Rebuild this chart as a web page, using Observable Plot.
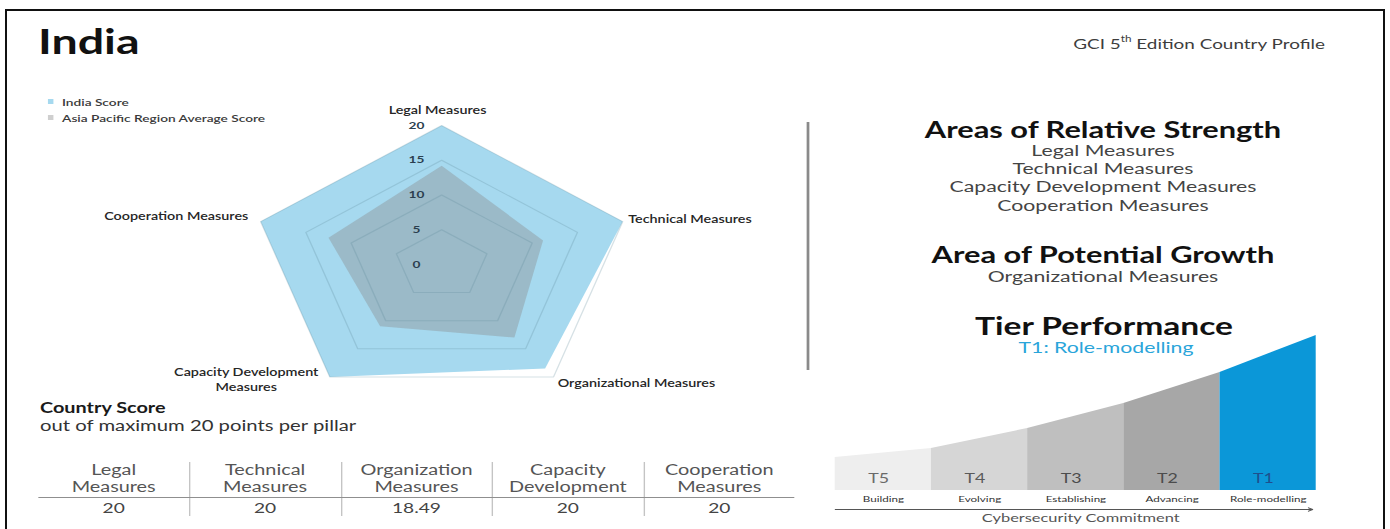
<!DOCTYPE html>
<html><head><meta charset="utf-8">
<script src="https://cdn.jsdelivr.net/npm/d3@7"></script>
<script src="https://cdn.jsdelivr.net/npm/@observablehq/plot@0.6"></script>
<style>
html,body{margin:0;padding:0;background:#fff;width:1390px;height:529px;overflow:hidden;font-family:Lato,"Open Sans",sans-serif;}
#stage{position:absolute;left:0;top:0;width:1015px;height:529px;transform:scaleX(1.3695);transform-origin:0 0;}
.t{position:absolute;white-space:nowrap;line-height:1;}
.t sup{font-size:0.62em;line-height:0;position:relative;top:-0.15em;vertical-align:super;}
#frame{position:absolute;left:5px;top:9px;width:1380px;height:560px;border:2px solid #111;box-sizing:border-box;}
.abs{position:absolute;}
</style></head><body>
<div id="frame"></div>
<div id="stage"></div>
<script>
// ---------- data ----------
const pillars = ["Legal Measures", "Technical Measures", "Organizational Measures", "Capacity Development\nMeasures", "Cooperation Measures"];
const indiaScore = [20, 20, 18.49, 20, 20];
const regionAverage = [14.2, 11.2, 13.0, 11.0, 12.5];
const radarTicks = [0, 5, 10, 15, 20];
const seriesNames = ["India Score", "Asia Pacific Region Average Score"];
const tableHeaders = ["Legal\nMeasures", "Technical\nMeasures", "Organization\nMeasures", "Capacity\nDevelopment", "Cooperation\nMeasures"];
const strengths = ["Legal Measures", "Technical Measures", "Capacity Development Measures", "Cooperation Measures"];
const growthAreas = ["Organizational Measures"];
const tiers = ["T5", "T4", "T3", "T2", "T1"];
const tierNames = ["Building", "Evolving", "Establishing", "Advancing", "Role-modelling"];
const tierCurve = [33, 42, 62, 87, 118, 155];
const indiaTier = "T1";

// ---------- styles ----------
const S = 1.3695;               // horizontal stretch of the original picture
const nx = x => x / S;
const stage = document.getElementById("stage");
const FONT = "Lato, 'Open Sans', sans-serif";
const seriesColors = ["#a6d9ef", "#cfcfcf"];
const tierColors = ["#eeeeee", "#d6d6d6", "#bfbfbf", "#a7a7a7", "#0b97d8"];
const tierTextColors = ["#6a6a6a", "#5a5a5a", "#4c4c4c", "#4c4c4c", "#1f4f8e"];

function txt(str, x, y, o = {}) {
  const d = document.createElement("div");
  d.className = "t";
  if (o.html) d.innerHTML = str; else d.textContent = str;
  d.style.left = nx(x) + "px";
  d.style.top = y + "px";
  d.style.fontSize = (o.size || 14) + "px";
  d.style.fontWeight = o.weight || 400;
  d.style.color = o.color || "#333";
  d.style.fontFamily = o.family || FONT;
  const tx = o.anchor === "middle" ? "-50%" : o.anchor === "end" ? "-100%" : "0";
  d.style.transform = `translate(${tx},-50%)`;
  stage.appendChild(d);
  return d;
}
function box(x, y, w, h, color) {
  const d = document.createElement("div");
  d.className = "abs";
  Object.assign(d.style, {left: nx(x) + "px", top: y + "px", width: w + "px", height: h + "px", background: color});
  stage.appendChild(d);
  return d;
}

// ---------- header ----------
txt("India", 38, 41, {size: 34, weight: 700, color: "#111"});
txt("GCI 5<sup>th</sup> Edition Country Profile", 1325, 44, {html: true, anchor: "end", size: 13.8, color: "#3d3d3d"});

// ---------- radar ----------
const k = 139 / 20;  // px per score unit
const RW = 600, RH = 380;
const ang = i => Math.PI / 2 - i * 2 * Math.PI / pillars.length;
const pts = (vals, extra = {}) => vals.map((v, i) => ({x: v * Math.cos(ang(i)), y: v * Math.sin(ang(i)), ...extra}));
const rings = radarTicks.filter(r => r > 0).flatMap(r => pts(pillars.map(() => r), {r}));
const maxScore = d3.max(radarTicks);
const labelPts = pts(pillars.map(() => maxScore)).map((p, i) => ({...p, label: pillars[i]}));
const labelPlace = [
  {textAnchor: "middle", dx: -3, dy: -16},
  {textAnchor: "start", dx: 4, dy: -3},
  {textAnchor: "start", dx: 3, dy: 5},
  {textAnchor: "middle", dx: -61, dy: 2},
  {textAnchor: "end", dx: -9, dy: -6}
];
const radar = Plot.plot({
  width: RW, height: RH, margin: 0,
  x: {domain: [-RW / 2 / k, RW / 2 / k], axis: null},
  y: {domain: [-RH / 2 / k, RH / 2 / k], axis: null},
  style: {background: "transparent", fontFamily: FONT, overflow: "visible"},
  marks: [
    Plot.line(pts(indiaScore), {x: "x", y: "y", curve: "linear-closed", fill: seriesColors[0], stroke: "none"}),
    Plot.line(pts(regionAverage), {x: "x", y: "y", curve: "linear-closed", fill: "#8a8a8a", fillOpacity: 0.38, stroke: "none"}),
    Plot.line(rings, {x: "x", y: "y", z: "r", curve: "linear-closed", stroke: "#5d8696", strokeOpacity: 0.25, strokeWidth: 1}),
    Plot.text(radarTicks, {x: () => 0, y: d => d, dx: -18.4, text: d => String(d), fontSize: 10, fontWeight: 700, fill: "#2b3f50"}),
    ...labelPts.map((p, i) => Plot.text([p], {x: "x", y: "y", text: "label", fontSize: 10.5, fontWeight: 600, fill: "#262626", lineHeight: 1.45, lineAnchor: "middle", ...labelPlace[i]}))
  ]
});
Object.assign(radar.style, {position: "absolute", left: (nx(441) - RW / 2) + "px", top: (264 - RH / 2) + "px", maxWidth: "none"});
stage.appendChild(radar);

// legend
seriesNames.forEach((n, i) => {
  box(48, 99 + i * 16, 3.7, 5, seriesColors[i]);
  txt(n, 62, 101.5 + i * 16, {size: 10, weight: 600, color: "#3a3a3a"});
});

// ---------- country score table ----------
txt("Country Score", 40, 408, {size: 14.5, weight: 700, color: "#1a1a1a"});
txt("out of maximum " + maxScore + " points per pillar", 40, 425, {size: 14.8, color: "#333"});
const tL = nx(38), tR = nx(795), colW = (tR - tL) / tableHeaders.length;
tableHeaders.forEach((h, i) => {
  const hd = document.createElement("div");
  hd.className = "abs";
  Object.assign(hd.style, {left: (tL + i * colW) + "px", top: "461px", width: colW + "px", textAlign: "center",
    lineHeight: "17px", fontSize: "14.5px", color: "#555", whiteSpace: "pre", fontFamily: FONT});
  hd.textContent = h;
  stage.appendChild(hd);
  const vd = document.createElement("div");
  vd.className = "abs";
  Object.assign(vd.style, {left: (tL + i * colW) + "px", top: "500px", width: colW + "px", textAlign: "center",
    lineHeight: "16px", fontSize: "14px", color: "#444", fontFamily: FONT});
  vd.textContent = String(indiaScore[i]);
  stage.appendChild(vd);
  if (i > 0) {
    const s = document.createElement("div");
    s.className = "abs";
    Object.assign(s.style, {left: (tL + i * colW) + "px", top: "462px", width: "0.75px", height: "54px", background: "#c4c4c4"});
    stage.appendChild(s);
  }
});
const rule = document.createElement("div");
rule.className = "abs";
Object.assign(rule.style, {left: tL + "px", top: "497px", width: (tR - tL) + "px", height: "1px", background: "#8f8f8f"});
stage.appendChild(rule);

// separator
const sep = document.createElement("div");
sep.className = "abs";
Object.assign(sep.style, {left: nx(807) + "px", top: "122px", width: "1.5px", height: "248px", background: "#8a8a8a"});
stage.appendChild(sep);

// ---------- right text block ----------
const cx = 1103;
txt("Areas of Relative Strength", cx, 129.5, {anchor: "middle", size: 22.5, weight: 700, color: "#111"});
strengths.forEach((s, i) => txt(s, cx, 151 + i * 18.2, {anchor: "middle", size: 15.5, color: "#444"}));
txt("Area of Potential Growth", cx, 254.5, {anchor: "middle", size: 22.5, weight: 700, color: "#111"});
growthAreas.forEach((s, i) => txt(s, cx, 276.5 + i * 18.2, {anchor: "middle", size: 15.5, color: "#444"}));
txt("Tier Performance", 1104, 325.5, {anchor: "middle", size: 24.5, weight: 700, color: "#111"});
txt(`${indiaTier}: ${tierNames[tiers.indexOf(indiaTier)]}`, 1106, 348, {anchor: "middle", size: 15.5, color: "#2aa5da"});

// ---------- tier chart ----------
const tierArea = tiers.flatMap((t, i) => [{tier: t, x: i, h: tierCurve[i]}, {tier: t, x: i + 1, h: tierCurve[i + 1]}]);
const TW = 370, TH = 209, tML = 9.5;
const tierPlot = Plot.plot({
  width: TW, height: TH, marginLeft: tML, marginRight: TW - tML - nx(1316) + nx(835), marginTop: 15, marginBottom: 39,
  x: {domain: [0, tiers.length], axis: null},
  y: {domain: [0, d3.max(tierCurve)], axis: null},
  color: {domain: tiers, range: tierColors},
  style: {background: "transparent", fontFamily: FONT, overflow: "visible"},
  marks: [
    Plot.areaY(tierArea, {x: "x", y1: () => 0, y2: "h", z: "tier", fill: "tier"}),
    ...tiers.map((t, i) => Plot.text([t], {x: () => i + 0.45, y: () => 0, dy: -12, text: d => d, fontSize: 13, fill: tierTextColors[i]})),
    Plot.text(tierNames, {x: (d, i) => i + 0.5, y: () => 0, dy: 9, text: d => d, fontSize: 8.5, fill: "#333"}),
    Plot.arrow([0], {x1: () => 0, x2: () => tiers.length - 0.04, y1: () => 0, y2: () => 0, dy: 19, stroke: "#555", strokeWidth: 1, headLength: 5}),
    Plot.text(["Cybersecurity Commitment"], {x: () => tiers.length / 2 + 0.05, y: () => 0, dy: 28, text: d => d, fontSize: 12, fill: "#555"})
  ]
});
Object.assign(tierPlot.style, {position: "absolute", left: (nx(835) - tML) + "px", top: (490 - (TH - 39)) + "px", maxWidth: "none"});
stage.appendChild(tierPlot);
</script>
</body></html>
